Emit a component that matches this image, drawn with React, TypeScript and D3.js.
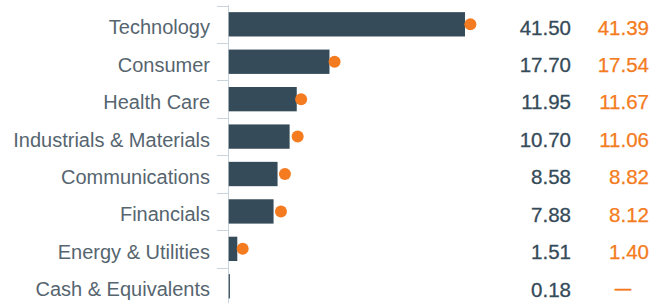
import React from "react";
import * as d3 from "d3";

const categories = [
  "Technology",
  "Consumer",
  "Health Care",
  "Industrials & Materials",
  "Communications",
  "Financials",
  "Energy & Utilities",
  "Cash & Equivalents",
];
const portfolio = [41.5, 17.7, 11.95, 10.7, 8.58, 7.88, 1.51, 0.18];
const benchmark: (number | null)[] = [41.39, 17.54, 11.67, 11.06, 8.82, 8.12, 1.4, null];

const W = 666;
const H = 303;
const BAR = "#354b59";
const ORANGE = "#f47b20";
const LABEL = "#56656f";
const AXIS = "#c9d4dc";
const FONT = "'Liberation Sans', Arial, Helvetica, sans-serif";

export default function App() {
  const x = d3.scaleLinear().domain([0, 41.5]).range([228.7, 465]);
  const y = d3
    .scaleBand<string>()
    .domain(categories)
    .range([5.6, 305])
    .paddingInner(0.35)
    .paddingOuter(0.175);
  const step = y.step();
  const bw = y.bandwidth();
  const axisX = 228.5;

  return (
    <svg
      width={W}
      height={H}
      style={{ position: "absolute", left: 0, top: 0, display: "block" }}
      fontFamily={FONT}
    >
      <rect width={W} height={H} fill="#ffffff" />
      <line x1={axisX} x2={axisX} y1={5} y2={H} stroke={AXIS} strokeWidth={1} />
      {categories.map((c) => {
        const ty = Math.round((y(c) as number) - step * 0.175) + 0.5;
        return (
          <line key={"t" + c} x1={217} x2={axisX} y1={ty} y2={ty} stroke={AXIS} strokeWidth={1} />
        );
      })}
      {categories.map((c, i) => {
        const yc = (y(c) as number) + bw / 2;
        const b = benchmark[i];
        return (
          <g key={c}>
            <rect
              x={x(0)}
              y={y(c)}
              width={Math.max(1.2, x(portfolio[i]) - x(0))}
              height={bw}
              fill={BAR}
            />
            {b !== null && <circle cx={x(b) + 6} cy={yc} r={6} fill={ORANGE} />}
            <text x={210} y={yc + 10} textAnchor="end" fontSize={20} fill={LABEL}>
              {c}
            </text>
            <text
              x={571}
              y={yc + 10.3}
              textAnchor="end"
              fontSize={20.5}
              fill={BAR}
              stroke={BAR}
              strokeWidth={0.3}
            >
              {portfolio[i].toFixed(2)}
            </text>
            {b !== null ? (
              <text
                x={649}
                y={yc + 10.3}
                textAnchor="end"
                fontSize={20.5}
                fill={ORANGE}
                stroke={ORANGE}
                strokeWidth={0.25}
              >
                {b.toFixed(2)}
              </text>
            ) : (
              <text
                x={623}
                y={yc + 8}
                textAnchor="middle"
                fontSize={16}
                fill={ORANGE}
                stroke={ORANGE}
                strokeWidth={0.7}
              >
                —
              </text>
            )}
          </g>
        );
      })}
    </svg>
  );
}
